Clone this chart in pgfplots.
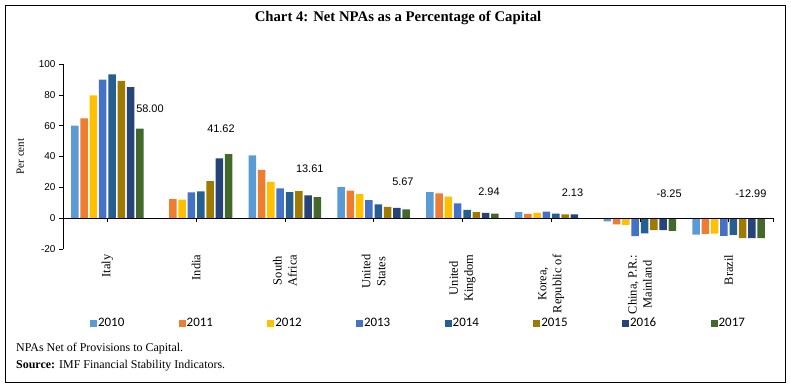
\documentclass[border=0pt]{standalone}
\usepackage{fontspec}
\setmainfont{Liberation Serif}
\newfontfamily\tickfont{Liberation Sans}
\newfontfamily\legfont{Carlito}
\usepackage{pgfplots}
\pgfplotsset{compat=1.18}
\definecolor{c2010}{HTML}{5B9BD5}
\definecolor{c2011}{HTML}{ED7D31}
\definecolor{c2012}{HTML}{FFC000}
\definecolor{c2013}{HTML}{4472C4}
\definecolor{c2014}{HTML}{255E91}
\definecolor{c2015}{HTML}{9E7A00}
\definecolor{c2016}{HTML}{264478}
\definecolor{c2017}{HTML}{43682B}
\begin{document}
\begin{tikzpicture}[x=1bp,y=1bp]
\useasboundingbox (0,0) rectangle (791,386);
\draw[line width=0.9bp] (5,4) rectangle (785,381);
\node[font=\bfseries\fontsize{14.8}{17}\selectfont] at (398,368) {Chart 4: Net NPAs as a Percentage of Capital};
\node[anchor=west, inner sep=0, font=\fontsize{12}{14}\selectfont] at (16,37) {NPAs Net of Provisions to Capital.};
\node[anchor=west, inner sep=0, font=\fontsize{12}{14}\selectfont] at (16,20) {\textbf{Source:} IMF Financial Stability Indicators.};
\begin{axis}[
  at={(63bp,137bp)}, anchor=south west,
  scale only axis, width=710bp, height=185bp,
  xmin=-0.5, xmax=7.5, ymin=-20, ymax=100,
  axis lines=left, axis line style={-},
  x axis line style={draw=none},
  clip=false,
  ybar=1.8bp, bar width=7.5bp,
  xtick={0,...,7},
  xticklabels={Italy, India, {South\\Africa}, {United\\States}, {United\\Kingdom}, {Korea,\\Republic of}, {China, P.R.:\\Mainland}, Brazil},
  x tick style={draw=none},
  xticklabel style={rotate=90, anchor=east, align=center, font=\fontsize{12.5}{15}\selectfont, inner sep=1.5bp},
  ytick={-20,0,20,40,60,80,100},
  y tick style={black, line width=0.6bp},
  tick align=outside, major tick length=4bp,
  yticklabel style={font=\tickfont\fontsize{10}{12}\selectfont},
  /pgf/number format/assume math mode=true,
  ylabel={Per cent},
  ylabel style={at={(axis description cs:-0.06,0.5)}, anchor=center, font=\fontsize{11}{13}\selectfont},
  legend columns=8,
  legend style={at={(0.5,-0.4)}, anchor=center, draw=none, font=\legfont\fontsize{13}{15}\selectfont,
    nodes={inner sep=1bp},
    /tikz/every even column/.append style={column sep=53.4bp}},
  legend image code/.code={\fill[#1] (0bp,-3.5bp) rectangle (7bp,3.5bp);},
]
\addplot[fill=c2010, draw=none] coordinates {(0,60.0) (2,40.8) (3,20.2) (4,16.9) (5,3.9) (6,-2.0) (7,-10.6)};
\addplot[fill=c2011, draw=none] coordinates {(0,64.7) (1,12.3) (2,31.3) (3,17.8) (4,16.1) (5,2.8) (6,-4.0) (7,-10.2)};
\addplot[fill=c2012, draw=none] coordinates {(0,79.7) (1,12.0) (2,23.5) (3,15.6) (4,13.9) (5,3.4) (6,-4.3) (7,-10.0)};
\addplot[fill=c2013, draw=none] coordinates {(0,89.8) (1,16.7) (2,19.4) (3,11.7) (4,9.6) (5,4.2) (6,-11.7) (7,-11.5)};
\addplot[fill=c2014, draw=none] coordinates {(0,93.3) (1,17.3) (2,16.9) (3,8.9) (4,5.4) (5,3.0) (6,-9.8) (7,-10.9)};
\addplot[fill=c2015, draw=none] coordinates {(0,89.0) (1,24.0) (2,17.6) (3,7.4) (4,3.9) (5,2.4) (6,-7.8) (7,-13.0)};
\addplot[fill=c2016, draw=none] coordinates {(0,85.0) (1,38.8) (2,14.8) (3,6.7) (4,3.5) (5,2.4) (6,-7.8) (7,-13.0)};
\addplot[fill=c2017, draw=none] coordinates {(0,58.00) (1,41.62) (2,13.61) (3,5.67) (4,2.94) (6,-8.25) (7,-12.99)};
\legend{2010,2011,2012,2013,2014,2015,2016,2017}
\draw[black, line width=0.8bp] (axis cs:-0.5,0) -- (axis cs:7.5,0);
\pgfplotsinvokeforeach{0,...,7}{\draw[black, line width=0.6bp] (axis cs:#1,0) -- ++(0bp,-4bp);}
\draw[black, line width=0.6bp] (axis cs:7.5,0) -- ++(0bp,-4bp);
\begin{scope}[every node/.style={font=\tickfont\fontsize{11}{13}\selectfont}]
\node at (axis cs:0.48,70.8) {58.00};
\node at (axis cs:1.28,57.8) {41.62};
\node at (axis cs:2.28,31.8) {13.61};
\node at (axis cs:3.33,23.4) {5.67};
\node at (axis cs:4.30,16.9) {2.94};
\node at (axis cs:5.24,16.2) {2.13};
\node at (axis cs:6.33,15.6) {-8.25};
\node at (axis cs:7.25,15.6) {-12.99};
\end{scope}
\end{axis}
\end{tikzpicture}
\end{document}
